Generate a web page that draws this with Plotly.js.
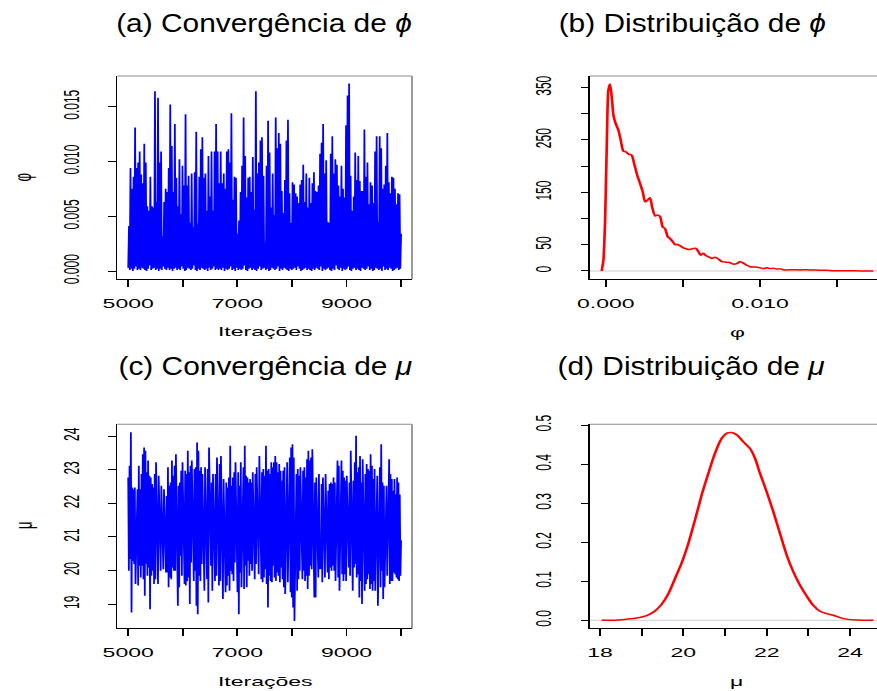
<!DOCTYPE html>
<html><head><meta charset="utf-8">
<script src="https://cdn.plot.ly/plotly-3.0.1.min.js"></script>
<style>
html,body{margin:0;padding:0;background:#fff;overflow:hidden;width:877px;height:691px;}
#main{position:absolute;left:0;top:0;width:495px;height:691px;transform-origin:0 0;}
#titles{position:absolute;left:0;top:0;width:763px;height:691px;transform-origin:0 0;pointer-events:none;}
</style></head><body>
<div id="main"></div><div id="titles"></div>
<script>
// ---------- data ----------
const iterFrom = 5000, iterTo = 10000;
const iterTicks = [5000, 6000, 7000, 8000, 9000, 10000];
const iterTickText = ['5000', '', '7000', '', '9000', ''];

// phi trace: spike tops and bottoms
const phiHigh = [
0.0041,0.0094,0.0075,0.0086,0.0131,0.0094,0.0099,0.0109,0.0088,0.0080,0.0116,0.0099,0.0059,0.0055,0.0086,0.0059,0.0058,0.0164,0.0063,0.0158,
0.0099,0.0109,0.0032,0.0063,0.0075,0.0072,0.0094,0.0152,0.0114,0.0072,0.0134,0.0085,0.0059,0.0102,0.0052,0.0096,0.0078,0.0143,0.0078,0.0087,
0.0044,0.0089,0.0040,0.0090,0.0127,0.0043,0.0086,0.0111,0.0122,0.0085,0.0089,0.0055,0.0105,0.0068,0.0109,0.0055,0.0109,0.0134,0.0109,0.0080,
0.0109,0.0080,0.0089,0.0075,0.0109,0.0111,0.0099,0.0144,0.0065,0.0086,0.0085,0.0034,0.0046,0.0072,0.0096,0.0140,0.0105,0.0067,0.0085,0.0086,
0.0072,0.0104,0.0056,0.0164,0.0089,0.0099,0.0119,0.0122,0.0087,0.0026,0.0096,0.0137,0.0108,0.0058,0.0089,0.0051,0.0140,0.0112,0.0126,0.0116,
0.0073,0.0053,0.0083,0.0119,0.0138,0.0071,0.0044,0.0081,0.0079,0.0071,0.0068,0.0062,0.0079,0.0083,0.0097,0.0063,0.0089,0.0058,0.0085,0.0062,
0.0080,0.0090,0.0073,0.0072,0.0078,0.0107,0.0117,0.0134,0.0089,0.0101,0.0045,0.0044,0.0107,0.0123,0.0089,0.0102,0.0097,0.0078,0.0068,0.0096,
0.0075,0.0067,0.0133,0.0160,0.0171,0.0087,0.0055,0.0068,0.0108,0.0083,0.0105,0.0082,0.0073,0.0073,0.0129,0.0086,0.0099,0.0061,0.0081,0.0078,
0.0062,0.0109,0.0123,0.0045,0.0123,0.0112,0.0075,0.0079,0.0096,0.0126,0.0081,0.0071,0.0086,0.0085,0.0075,0.0061,0.0071,0.0070,0.0034
];
const phiLow = [
0.0003,0.0001,0.0002,0.0000,0.0002,0.0004,0.0001,0.0002,0.0001,0.0003,0.0002,0.0001,0.0000,0.0002,0.0005,0.0001,0.0002,0.0003,0.0001,0.0002,
0.0000,0.0002,0.0001,0.0004,0.0002,0.0001,0.0003,0.0001,0.0002,0.0000,0.0002,0.0003,0.0001,0.0002,0.0001,0.0004,0.0002,0.0000,0.0001,0.0003,
0.0002,0.0001,0.0002,0.0005,0.0001,0.0000,0.0002,0.0001,0.0003,0.0002,0.0001,0.0002,0.0000,0.0003,0.0001,0.0002,0.0004,0.0001,0.0002,0.0001,
0.0002,0.0001,0.0003,0.0000,0.0002,0.0001,0.0002,0.0004,0.0001,0.0002,0.0000,0.0003,0.0001,0.0002,0.0001,0.0002,0.0005,0.0001,0.0000,0.0002,
0.0003,0.0001,0.0002,0.0001,0.0000,0.0002,0.0004,0.0001,0.0002,0.0003,0.0001,0.0002,0.0000,0.0001,0.0003,0.0002,0.0001,0.0002,0.0004,0.0000,
0.0002,0.0001,0.0003,0.0002,0.0001,0.0000,0.0002,0.0001,0.0002,0.0003,0.0001,0.0004,0.0002,0.0000,0.0001,0.0002,0.0003,0.0001,0.0002,0.0001,
0.0000,0.0002,0.0001,0.0003,0.0002,0.0001,0.0004,0.0000,0.0002,0.0001,0.0002,0.0003,0.0001,0.0000,0.0002,0.0001,0.0005,0.0002,0.0001,0.0003,
0.0000,0.0002,0.0001,0.0002,0.0004,0.0001,0.0000,0.0002,0.0003,0.0001,0.0002,0.0001,0.0000,0.0003,0.0002,0.0001,0.0002,0.0004,0.0001,0.0002,
0.0000,0.0001,0.0003,0.0002,0.0001,0.0002,0.0000,0.0004,0.0001,0.0002,0.0001,0.0003,0.0002,0.0000,0.0001,0.0002,0.0003,0.0001,0.0002
];

// mu trace: tops and bottoms
const muHigh = [
22.77,23.12,24.11,22.47,22.42,22.47,22.37,22.42,23.12,22.42,22.87,23.46,23.66,23.56,22.92,23.27,22.82,22.77,22.57,22.47,
22.87,23.22,22.87,22.82,22.47,22.52,22.52,22.42,22.42,22.22,23.07,22.52,22.62,23.27,22.82,23.12,23.46,22.62,22.52,22.62,
22.97,23.22,22.77,22.97,22.87,23.56,22.92,23.12,23.27,22.87,23.02,23.07,23.81,23.56,22.97,23.07,22.87,22.62,23.07,22.62,
23.02,23.66,23.07,22.62,22.87,22.62,22.87,23.36,
23.07,23.17,23.41,22.82,22.72,22.62,22.62,22.47,22.77,23.71,22.52,22.77,22.92,23.22,22.62,22.92,22.52,23.22,22.67,23.07,
23.71,22.82,22.77,22.62,22.72,22.62,22.92,22.42,22.87,23.07,22.97,23.41,23.22,22.92,23.02,22.82,23.71,22.97,23.02,22.87,
23.22,23.07,23.22,23.41,23.22,22.92,23.17,22.97,22.67,22.97,23.07,22.87,23.22,23.17,23.36,23.66,23.76,23.36,22.52,22.87,
23.02,22.82,23.07,22.72,22.97,23.07,22.77,23.31,23.56,23.27,23.36,23.61,
23.07,22.62,22.77,22.67,22.87,22.82,22.57,22.77,22.72,22.87,22.17,22.37,22.57,22.62,22.57,22.77,22.62,22.77,23.27,23.12,
22.62,23.27,22.97,22.77,22.67,22.82,22.62,22.62,23.56,23.17,22.67,23.22,24.01,22.92,23.07,23.41,22.62,23.31,22.82,22.87,
23.17,23.02,22.97,23.46,23.12,22.72,23.02,22.77,22.82,22.77,23.07,23.76,22.62,22.52,22.37,22.52,22.87,23.31,22.87,22.72,
22.37,22.72,22.27,22.77,22.62,22.26
];
const muLow = [
19.99,20.34,18.75,20.29,20.19,19.60,20.34,19.55,20.14,19.79,20.14,19.74,19.25,20.19,19.84,20.09,18.85,19.84,19.99,19.60,
19.74,20.09,19.60,20.19,19.99,20.09,20.04,19.99,19.94,19.94,19.50,19.79,19.74,20.09,19.99,19.99,19.20,18.95,19.50,20.44,
19.84,20.19,19.60,19.55,19.69,19.79,19.00,20.24,20.19,19.69,19.99,18.95,18.70,19.84,19.69,20.19,19.99,19.40,19.99,19.74,
19.05,20.24,20.14,19.40,20.19,19.69,19.84,19.69,19.55,
19.69,19.99,19.15,19.94,19.35,19.55,19.84,19.40,19.99,19.89,19.69,20.24,19.94,19.35,18.70,19.94,19.50,19.99,19.45,20.14,
19.50,20.29,19.84,20.19,19.99,19.79,19.74,20.19,20.14,19.89,19.99,19.74,19.65,19.79,20.04,19.60,18.90,19.84,19.69,19.65,
20.14,19.79,19.69,19.94,19.84,19.65,20.09,19.74,19.50,19.30,20.04,19.65,19.84,19.35,19.20,18.90,18.50,19.99,19.40,19.74,
19.99,20.19,19.74,19.99,19.69,19.84,19.45,19.84,20.14,20.04,19.40,19.20,
19.20,20.09,19.79,20.04,20.09,19.65,19.84,19.79,20.09,19.94,19.74,20.09,19.99,20.14,19.99,19.69,20.09,19.79,19.40,19.94,
19.89,19.69,19.89,19.69,20.19,20.09,19.84,19.50,19.40,20.09,20.19,19.79,19.89,19.20,19.69,19.00,19.79,19.40,19.60,19.74,
19.89,19.45,19.60,19.40,19.69,19.40,19.94,18.95,19.65,19.50,19.99,19.15,19.50,19.79,19.84,19.94,19.60,19.69,19.69,19.94,
19.89,19.79,19.74,19.69,19.84,20.90
];

// density of phi (panel b)
const phiDensX = [-0.00026,-0.00015,-0.00004,0.000065,0.00017,0.00028,0.00039,0.0005,0.00065,0.00082,0.00097,0.00114,0.00132,0.00149,0.00168,0.00184,0.00201,0.00222,0.0024,0.00255,
0.0027,0.00287,0.003,0.0032,0.00335,0.00352,0.00369,0.00384,0.00402,0.00417,0.00434,0.00449,0.00464,0.00482,0.00503,0.00525,0.00546,0.00568,0.00585,0.006,
0.00616,0.00633,0.0065,0.00667,0.00687,0.00708,0.0073,0.00752,0.00773,0.00795,0.00812,0.00827,0.00849,0.0087,0.00892,0.00914,0.00935,0.00968,0.01,0.01022,
0.01043,0.01065,0.01086,0.01108,0.0113,0.01151,0.01173,0.01216,0.0126,0.01302,0.01346,0.01389,0.01432,0.01475,0.01519,0.01583,0.01648,0.01734];
const phiDensY = [0,21,97,237,345,357,332,297,281,269,250,229,227,223,221,205,186,167,151,132,
135,140,123,105,107,104,84,81,65,62,56,50,51,48,44,42,41,43,43,37,
30,34,29,27,24,26,23,18,17,16.5,15,13,14,18,15,11,8,7.5,6,4.5,
6,4.5,5,4,4,2.5,2,2.5,2,2.5,2,1.3,1.3,0.6,0.6,0.3,0.2,0.1];

// density of mu (panel d)
const muDensX = [18.04,18.32,18.64,18.88,19.12,19.32,19.48,19.64,19.8,19.96,20.12,20.28,20.44,20.6,20.76,20.92,21.06,21.16,21.28,21.44,
21.6,21.72,21.84,22.0,22.16,22.32,22.48,22.64,22.8,22.96,23.12,23.28,23.44,23.6,23.76,23.92,24.16,24.56];
const muDensY = [0,0,0.003,0.006,0.012,0.024,0.041,0.068,0.107,0.147,0.197,0.257,0.321,0.376,0.428,0.466,0.480,0.481,0.475,0.457,
0.440,0.415,0.376,0.329,0.278,0.222,0.167,0.124,0.090,0.062,0.038,0.023,0.017,0.013,0.007,0.003,0.001,0];

// ---------- build ----------
function interleave(a, b) {
  const out = [];
  const n = Math.max(a.length, b.length);
  for (let i = 0; i < n; i++) { if (i < a.length) out.push(a[i]); if (i < b.length) out.push(b[i]); }
  return out;
}
function iterations(n) {
  const out = [];
  for (let i = 0; i < n; i++) out.push(iterFrom + i * (iterTo - iterFrom) / (n - 1));
  return out;
}
const phiTrace = interleave(phiLow, phiHigh);
const muTrace = interleave(muHigh, muLow);

const FONT = 'Liberation Sans, Arial, Helvetica, sans-serif';
const W = 877, H = 691, MAINW = 495, TITW = 763;

function xax(domain, anchor, range, tv, tt) {
  return {domain: domain, anchor: anchor, range: range, tickvals: tv, ticktext: tt,
    ticks: 'outside', ticklen: 7, tickwidth: 1, tickcolor: '#000', showline: true, linecolor: '#000', linewidth: 1,
    showgrid: false, zeroline: false, tickfont: {family: FONT, size: 13, color: '#000'}, ticklabelstandoff: 5, fixedrange: true};
}
function yax(domain, anchor, range, tv, tt) {
  return {domain: domain, anchor: anchor, range: range, tickvals: tv, ticktext: tt, tickangle: -90,
    ticks: 'outside', ticklen: 4, tickwidth: 1, tickcolor: '#000', showline: true, linecolor: '#000', linewidth: 1,
    showgrid: false, zeroline: false, tickfont: {family: FONT, size: 12, color: '#000'}, ticklabelstandoff: 12, fixedrange: true};
}
const dA = [117.3 / W, 412 / W], dB = [590 / W, 1];
const yTop = [1 - 279 / H, 1 - 76 / H], yBot = [1 - 628.3 / H, 1 - 424.3 / H];

const traces = [
  {x: iterations(phiTrace.length), y: phiTrace, xaxis: 'x', yaxis: 'y', type: 'scatter', mode: 'lines', line: {color: '#0000ff', width: 1}, hoverinfo: 'skip'},
  {x: phiDensX, y: phiDensY, xaxis: 'x2', yaxis: 'y2', type: 'scatter', mode: 'lines', line: {color: '#ff0000', width: 1.5, shape: 'spline', smoothing: 0.6}, hoverinfo: 'skip'},
  {x: iterations(muTrace.length), y: muTrace, xaxis: 'x3', yaxis: 'y3', type: 'scatter', mode: 'lines', line: {color: '#0000ff', width: 1}, hoverinfo: 'skip'},
  {x: muDensX, y: muDensY, xaxis: 'x4', yaxis: 'y4', type: 'scatter', mode: 'lines', line: {color: '#ff0000', width: 1.5, shape: 'spline', smoothing: 0.8}, hoverinfo: 'skip'}
];

function frame(xr, yr, right) {
  const s = [{type: 'line', xref: xr + ' domain', yref: yr + ' domain', x0: 0, x1: 1, y0: 1, y1: 1, line: {color: '#8c8c8c', width: 1}}];
  if (right) s.push({type: 'line', xref: xr + ' domain', yref: yr + ' domain', x0: 1, x1: 1, y0: 0, y1: 1, line: {color: '#8c8c8c', width: 1}});
  return s;
}
const shapes = [].concat(frame('x', 'y', true), frame('x2', 'y2', false), frame('x3', 'y3', true), frame('x4', 'y4', false), [
  {type: 'line', xref: 'x2 domain', yref: 'y2', x0: 0, x1: 1, y0: 0, y1: 0, line: {color: '#cccccc', width: 1}, layer: 'below'},
  {type: 'line', xref: 'x4 domain', yref: 'y4', x0: 0, x1: 1, y0: 0, y1: 0, line: {color: '#cccccc', width: 1}, layer: 'below'}
]);

function lab(text, px, py, angle) {
  return {text: text, xref: 'paper', yref: 'paper', x: px / W, y: 1 - py / H, xanchor: 'center', yanchor: 'middle',
    showarrow: false, textangle: angle || 0, font: {family: FONT, size: 13, color: '#000'}};
}

const layout = {
  width: MAINW, height: H, margin: {l: 0, r: 0, t: 0, b: 0}, paper_bgcolor: 'rgba(0,0,0,0)', plot_bgcolor: '#fff',
  showlegend: false, hovermode: false,
  xaxis: xax(dA, 'y', [4800, 10200], iterTicks, iterTickText),
  yaxis: yax(yTop, 'x', [-0.00073, 0.01779], [0, 0.005, 0.01, 0.015], ['0.000', '0.005', '0.010', '0.015']),
  xaxis2: xax(dB, 'y2', [-0.00102, 0.01758], [0, 0.005, 0.01, 0.015], ['0.000', '', '0.010', '']),
  yaxis2: yax(yTop, 'x2', [-15.3, 372.1], [0, 50, 100, 150, 200, 250, 300, 350], ['0', '50', '', '150', '', '250', '', '350']),
  xaxis3: xax(dA, 'y3', [4800, 10200], iterTicks, iterTickText),
  yaxis3: yax(yBot, 'x3', [18.28, 24.35], [19, 20, 21, 22, 23, 24], ['19', '20', '21', '22', '23', '24']),
  xaxis4: xax(dB, 'y4', [17.76, 24.647], [18, 19, 20, 21, 22, 23, 24], ['18', '', '20', '', '22', '', '24']),
  yaxis4: yax(yBot, 'x4', [-0.0205, 0.502], [0, 0.1, 0.2, 0.3, 0.4, 0.5], ['0.0', '0.1', '0.2', '0.3', '0.4', '0.5']),
  shapes: shapes,
  annotations: [
    lab('Iterações', 265, 331.7), lab('Iterações', 265, 681.7),
    lab('φ', 737.7, 332.7), lab('μ', 737.7, 681.7),
    lab('φ', 22, 177, -90), lab('μ', 23, 525, -90)
  ]
};

const mainDiv = document.getElementById('main');
mainDiv.style.transform = 'scaleX(' + (W / MAINW) + ')';
Plotly.newPlot(mainDiv, traces, layout, {staticPlot: true, displayModeBar: false});

function ttl(text, px, py) {
  return {text: text, xref: 'paper', yref: 'paper', x: px / W, y: 1 - py / H, xanchor: 'center', yanchor: 'middle',
    showarrow: false, font: {family: FONT, size: 26, color: '#000'}};
}
const titleDiv = document.getElementById('titles');
titleDiv.style.transform = 'scaleX(' + (W / TITW) + ')';
Plotly.newPlot(titleDiv, [], {
  width: TITW, height: H, margin: {l: 0, r: 0, t: 0, b: 0}, paper_bgcolor: 'rgba(0,0,0,0)', plot_bgcolor: 'rgba(0,0,0,0)',
  xaxis: {visible: false}, yaxis: {visible: false}, showlegend: false,
  annotations: [
    ttl('(a) Convergência de <i>ϕ</i>', 263.5, 23), ttl('(b) Distribuição de <i>ϕ</i>', 692, 23),
    ttl('(c) Convergência de <i>μ</i>', 265.5, 366), ttl('(d) Distribuição de <i>μ</i>', 690.5, 366)
  ]
}, {staticPlot: true, displayModeBar: false});
</script></body></html>
